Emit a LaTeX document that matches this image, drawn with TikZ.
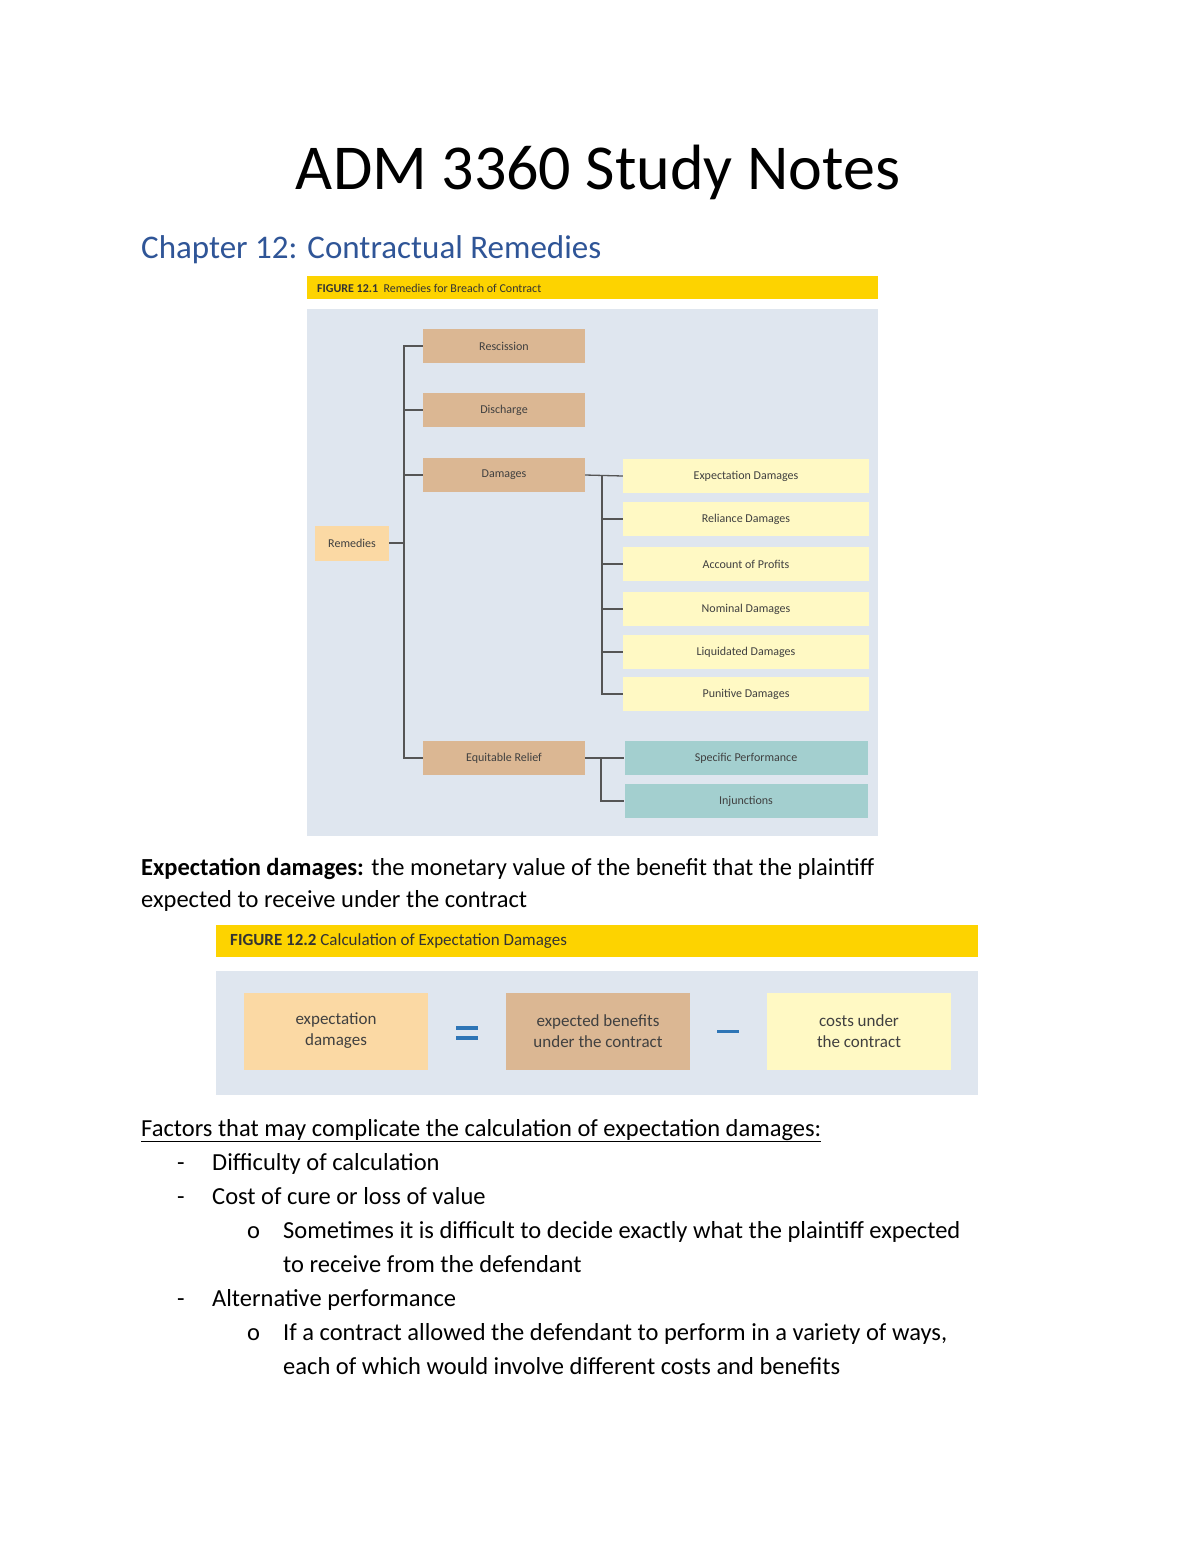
\documentclass[tikz,border=0pt]{standalone}
\usepackage{fontspec}
\setmainfont{Carlito}
\definecolor{bgg}{HTML}{DFE6EF}
\definecolor{hdr}{HTML}{FDD300}
\definecolor{tan}{HTML}{DBB793}
\definecolor{lyel}{HTML}{FFF9C4}
\definecolor{teal}{HTML}{A3CFCF}
\definecolor{lor}{HTML}{FBD9A4}
\definecolor{hblue}{HTML}{2F5597}
\definecolor{ln}{HTML}{555555}
\definecolor{eqb}{HTML}{2E75B6}
\begin{document}
\begin{tikzpicture}[x=1pt,y=-1pt,
  box/.style={draw=none,minimum height=34pt,inner sep=0pt,font=\fontsize{12}{14}\selectfont\color{black!75}},
  tanbox/.style={box,fill=tan,minimum width=162pt},
  ybox/.style={box,fill=lyel,minimum width=246pt},
  tbox/.style={box,fill=teal,minimum width=243pt},
  bigbox/.style={draw=none,minimum width=184pt,minimum height=77pt,inner sep=0pt,align=center,font=\fontsize{17}{21}\selectfont\color{black!75}},
  conn/.style={draw=ln,line width=1.3pt},
  body/.style={anchor=base west,inner sep=0pt,font=\fontsize{24.5}{30}\selectfont}]
\useasboundingbox (0,0) rectangle (1200,1553);
\node (title) at (598,172) {\fontsize{64}{70}\selectfont ADM 3360 Study Notes};
\node[anchor=base west,inner sep=0pt,text=hblue] (chap) at (141,258) {\fontsize{33}{38}\selectfont Chapter 12: Contractual Remedies};
% figure 12.1
\fill[hdr] (307,276) rectangle (878,299);
\node[anchor=west,inner sep=0pt] (h1) at (317,288) {\fontsize{12}{14}\selectfont\color{black!80}\textbf{FIGURE 12.1}\ \ Remedies for Breach of Contract};
\fill[bgg] (307,309) rectangle (878,836);
\node[box,fill=lor,minimum width=74pt,minimum height=35pt] (rem) at (352,543) {Remedies};
\node[tanbox] (resc) at (504,346) {Rescission};
\node[tanbox] (disc) at (504,410) {Discharge};
\node[tanbox] (dam) at (504,475) {Damages};
\node[tanbox] (eq) at (504,758) {Equitable Relief};
\node[ybox] (e1) at (746,476) {Expectation Damages};
\node[ybox] (e2) at (746,519) {Reliance Damages};
\node[ybox] (e3) at (746,564) {Account of Profits};
\node[ybox] (e4) at (746,609) {Nominal Damages};
\node[ybox] (e5) at (746,652) {Liquidated Damages};
\node[ybox] (e6) at (746,694) {Punitive Damages};
\node[tbox] (s1) at (746,758) {Specific Performance};
\node[tbox] (s2) at (746,801) {Injunctions};
\coordinate (t) at (404,543);
\draw[conn] (rem.east) -- (t);
\draw[conn] (resc.west) -| (t) |- (eq.west);
\draw[conn] (disc.west) -- (disc.west -| t);
\draw[conn] (dam.west) -- (dam.west -| t);
\coordinate (d) at (602,476);
\draw[conn] (dam.east) -- (e1.west);
\draw[conn] (d) |- (e6.west);
\foreach \n in {e2,e3,e4,e5} \draw[conn] (\n.west) -- (\n.west -| d);
\coordinate (q) at (601,758);
\draw[conn] (eq.east) -- (s1.west);
\draw[conn] (q) |- (s2.west);
% text
\node[body] (p1) at (141,875) {\textbf{Expectation damages:} the monetary value of the benefit that the plaintiff};
\node[body] (p2) at (141,907) {expected to receive under the contract};
% figure 12.2
\fill[hdr] (216,925) rectangle (978,957);
\node[anchor=west,inner sep=0pt] (h2) at (230,941) {\fontsize{17}{20}\selectfont\color{black!80}\textbf{FIGURE 12.2}\ Calculation of Expectation Damages};
\fill[bgg] (216,971) rectangle (978,1095);
\node[bigbox,fill=lor] (b1) at (336,1031) {expectation\\damages};
\node[bigbox,fill=tan] (b2) at (598,1031) {expected benefits\\under the contract};
\node[bigbox,fill=lyel] (b3) at (859,1031) {costs under\\the contract};
\fill[eqb] (456,1026) rectangle (478,1030);
\fill[eqb] (456,1036) rectangle (478,1040);
\fill[eqb] (717,1030) rectangle (739,1033);
\node[body] (f) at (141,1136) {\underline{Factors that may complicate the calculation of expectation damages:}};
\node[body] (d1) at (177,1170) {-};
\node[body] (l1) at (212,1170) {Difficulty of calculation};
\node[body] (d2) at (177,1204) {-};
\node[body] (l2) at (212,1204) {Cost of cure or loss of value};
\node[body] (o1) at (247,1238) {o};
\node[body] (l3) at (283,1238) {Sometimes it is difficult to decide exactly what the plaintiff expected};
\node[body] (l4) at (283,1272) {to receive from the defendant};
\node[body] (d3) at (177,1306) {-};
\node[body] (l5) at (212,1306) {Alternative performance};
\node[body] (o2) at (247,1340) {o};
\node[body] (l6) at (283,1340) {If a contract allowed the defendant to perform in a variety of ways,};
\node[body] (l7) at (283,1374) {each of which would involve different costs and benefits};
\end{tikzpicture}
\end{document}
